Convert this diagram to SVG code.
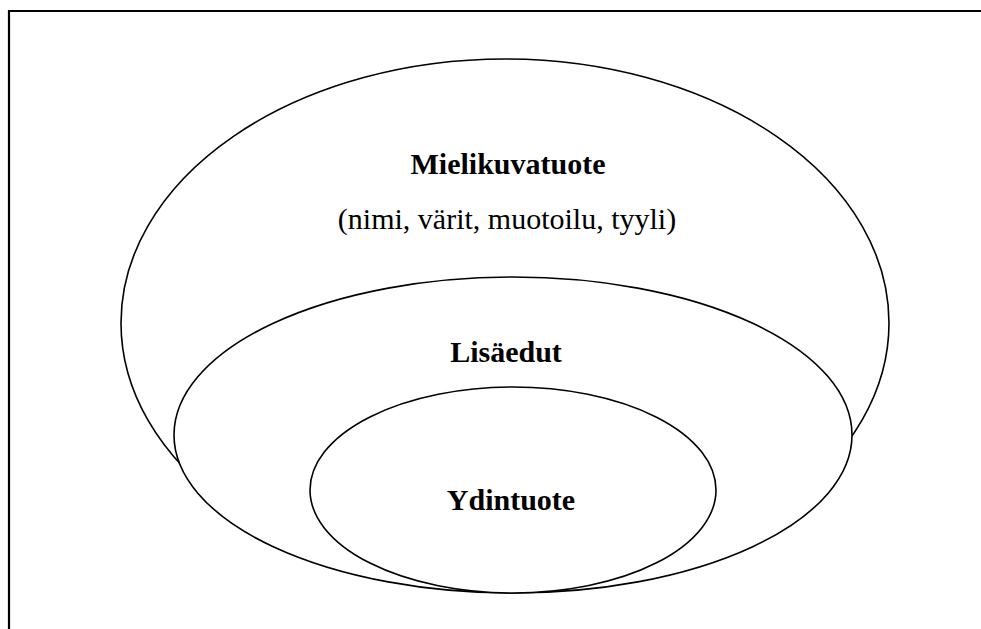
<svg xmlns="http://www.w3.org/2000/svg" width="981" height="629" viewBox="0 0 981 629">
  <style>
    .frame { stroke: #000; stroke-width: 2.2; fill: none; }
    .ring { stroke: #000; stroke-width: 1.6; fill: #fff; }
    .title { font-family: "Liberation Serif", "Times New Roman", serif; font-size: 30px; font-weight: bold; text-anchor: middle; fill: #000; }
    .note { font-family: "Liberation Serif", "Times New Roman", serif; font-size: 30px; text-anchor: middle; fill: #000; }
  </style>
  <rect width="981" height="629" fill="#fff"/>
  <!-- page frame: top and left rules only -->
  <g id="frame">
    <line class="frame" x1="8" y1="11" x2="981" y2="11"/>
    <line class="frame" x1="9" y1="10" x2="9" y2="629"/>
  </g>
  <g id="mielikuvatuote">
    <ellipse class="ring" cx="505" cy="323" rx="384" ry="264"/>
    <text class="title" x="508" y="174">Mielikuvatuote</text>
    <text class="note" x="507" y="229">(nimi, värit, muotoilu, tyyli)</text>
  </g>
  <g id="lisaedut">
    <ellipse class="ring" cx="513" cy="435" rx="339" ry="158"/>
    <text class="title" x="506" y="362">Lisäedut</text>
  </g>
  <g id="ydintuote">
    <ellipse class="ring" cx="513" cy="490" rx="203" ry="103"/>
    <text class="title" x="511" y="510">Ydintuote</text>
  </g>
  <g id="connectors"/>
</svg>
